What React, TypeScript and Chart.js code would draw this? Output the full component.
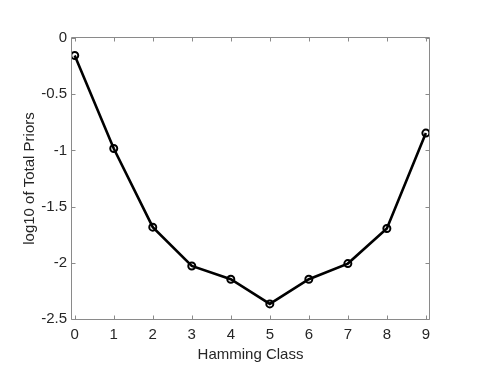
import React, { useEffect, useRef } from "react";
import { Chart, registerables } from "chart.js";

Chart.register(...registerables);

const hammingClass = [0, 1, 2, 3, 4, 5, 6, 7, 8, 9];
const log10Priors = [-0.155, -0.983, -1.683, -2.028, -2.146, -2.366, -2.146, -2.007, -1.695, -0.846];
const xTickValues = [0, 1, 2, 3, 4, 5, 6, 7, 8, 9];
const yTickValues = [-2.5, -2, -1.5, -1, -0.5, 0];
const xTitle = "Hamming Class";
const yTitle = "log10 of Total Priors";

const FONT = "'Liberation Sans', Arial, Helvetica, sans-serif";
const TEXT = "#262626";
const BOX = "#8a8a8a";

const boxPlugin = {
  id: "matlabBox",
  afterDatasetsDraw(chart: any) {
    const { ctx, chartArea, scales } = chart;
    const { left, right, top, bottom } = chartArea;
    ctx.save();
    ctx.strokeStyle = BOX;
    ctx.lineWidth = 1;
    ctx.beginPath();
    const L = Math.round(left) - 0.5, R = Math.round(right) + 0.5;
    const T = Math.round(top) - 0.5, B = Math.round(bottom) + 0.5;
    ctx.rect(L, T, R - L, B - T);
    const tl = 4;
    xTickValues.forEach((v) => {
      const px = Math.round(scales.x.getPixelForValue(v)) + 0.5;
      ctx.moveTo(px, B); ctx.lineTo(px, B - tl);
      ctx.moveTo(px, T); ctx.lineTo(px, T + tl);
    });
    yTickValues.forEach((v) => {
      const py = Math.round(scales.y.getPixelForValue(v)) + 0.5;
      ctx.moveTo(L, py); ctx.lineTo(L + tl, py);
      ctx.moveTo(R, py); ctx.lineTo(R - tl, py);
    });
    ctx.stroke();
    ctx.restore();
  },
};

export default function App() {
  const ref = useRef<HTMLCanvasElement | null>(null);
  useEffect(() => {
    document.body.style.margin = "0";
    const canvas = ref.current!;
    const chart = new Chart(canvas, {
      type: "line",
      data: {
        datasets: [
          {
            data: hammingClass.map((x, i) => ({ x, y: log10Priors[i] })),
            borderColor: "#000000",
            borderWidth: 2.6,
            pointRadius: 3.5,
            pointBorderWidth: 2,
            pointBorderColor: "#000000",
            pointBackgroundColor: "rgba(0,0,0,0)",
            tension: 0,
          },
        ],
      },
      options: {
        animation: false,
        responsive: false,
        devicePixelRatio: 1,
        layout: { padding: { top: 38, right: 56, left: 0, bottom: 0 } },
        plugins: { legend: { display: false }, tooltip: { enabled: false } },
        scales: {
          x: {
            type: "linear",
            min: -0.07,
            max: 9.08,
            grid: { display: false, drawTicks: false },
            border: { display: false },
            afterBuildTicks: (s: any) => { s.ticks = xTickValues.map((v) => ({ value: v })); },
            afterFit: (s: any) => { s.height = 55; },
            ticks: { font: { family: FONT, size: 15 }, color: TEXT, padding: 7, maxRotation: 0, autoSkip: false, callback: (v: any) => String(v) },
            title: { display: true, text: xTitle, font: { family: FONT, size: 15 }, color: TEXT, padding: { top: 0, bottom: 10 } },
          },
          y: {
            type: "linear",
            min: -2.5,
            max: 0,
            grid: { display: false, drawTicks: false },
            border: { display: false },
            afterBuildTicks: (s: any) => { s.ticks = yTickValues.map((v) => ({ value: v })); },
            afterFit: (s: any) => { s.width = 72; },
            ticks: { font: { family: FONT, size: 15 }, color: TEXT, padding: 5, autoSkip: false, callback: (v: any) => String(v) },
            title: { display: true, text: yTitle, font: { family: FONT, size: 15 }, color: TEXT, padding: { top: 21, bottom: 0 } },
          },
        },
      },
      plugins: [boxPlugin],
    });
    return () => chart.destroy();
  }, []);
  return (
    <div style={{ position: "fixed", left: 0, top: 0, width: 485, height: 374, background: "#ffffff" }}>
      <canvas ref={ref} width={485} height={374} style={{ width: 485, height: 374, display: "block" }} />
    </div>
  );
}
